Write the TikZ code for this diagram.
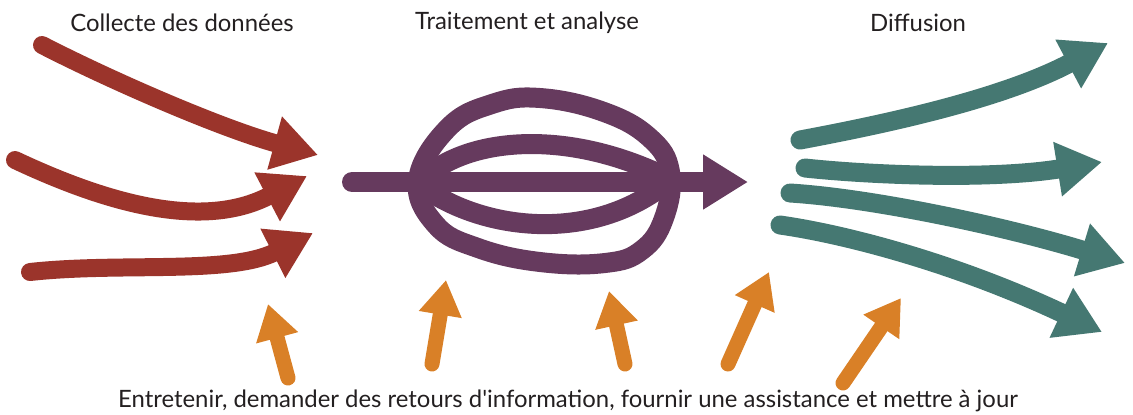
\documentclass[tikz,border=0pt]{standalone}
\usepackage{fontspec}
\setmainfont{Lato}
\usetikzlibrary{arrows.meta}
\definecolor{cred}{HTML}{9B342B}
\definecolor{cpurple}{HTML}{663A5E}
\definecolor{cteal}{HTML}{457872}
\definecolor{corange}{HTML}{D98027}
\definecolor{ctext}{HTML}{231F20}
\tikzset{
  lbl/.style={font=\fontsize{13.6}{16}\selectfont, text=ctext, inner sep=0pt},
  redarrow/.style={draw=cred, line width=0.36cm, line cap=round, -{Triangle[length=0.9cm,width=1.04cm]}},
  purplearrow/.style={draw=cpurple, line width=0.4cm, line cap=round, -{Triangle[length=0.9cm,width=1.04cm]}},
  purpleloop/.style={draw=cpurple, line width=0.4cm, line cap=round, line join=round},
  tealarrow/.style={draw=cteal, line width=0.38cm, line cap=round, -{Triangle[length=0.9cm,width=1.04cm]}},
  orangearrow/.style={draw=corange, line width=0.3cm, line cap=round, -{Triangle[length=0.7cm,width=0.82cm]}},
}
\begin{document}
\begin{tikzpicture}[x=0.02cm,y=-0.02cm]
\useasboundingbox (0,0) rectangle (1133,414);
% labels
\node[lbl] (lcol) at (182,23) {Collecte des données};
\node[lbl] (ltra) at (527,23) {Traitement et analyse};
\node[lbl] (ldif) at (918,23) {Diffusion};
\node[lbl] (lbot) at (568,401) {Entretenir, demander des retours d\textquotesingle information, fournir une assistance et mettre à jour};
% red arrows
\coordinate (r1s) at (42,45);   \coordinate (r1e) at (318,155);
\coordinate (r2s) at (15,160);  \coordinate (r2e) at (307,176);
\coordinate (r3s) at (30,272);  \coordinate (r3e) at (313,233);
\draw[redarrow] (r1s) .. controls (110,80) and (220,128) .. (r1e);
\draw[redarrow] (r2s) .. controls (100,200) and (200,232) .. (r2e);
\draw[redarrow] (r3s) .. controls (120,262) and (230,275) .. (r3e);
% purple whisk
\draw[purpleloop] plot[smooth cycle, tension=0.7] coordinates {(418,180) (448,128) (492,104) (540,98) (604,112) (650,138) (670,172) (664,218) (642,250) (605,263) (540,262) (478,248) (436,225)};
\coordinate (pul) at (420,182); \coordinate (pur) at (668,178);
\coordinate (pll) at (420,185); \coordinate (plr) at (668,182);
\draw[purpleloop] (pul) .. controls (460,140) and (560,125) .. (pur);
\draw[purpleloop] (pll) .. controls (480,230) and (590,245) .. (plr);
\coordinate (ps) at (352,182); \coordinate (pe) at (748,182);
\draw[purplearrow] (ps) -- (pe);
% teal arrows
\coordinate (t1s) at (800,140);  \coordinate (t1e) at (1108,43);
\coordinate (t2s) at (805,168);  \coordinate (t2e) at (1102,162);
\coordinate (t3s) at (790,193);  \coordinate (t3e) at (1125,263);
\coordinate (t4s) at (780,225);  \coordinate (t4e) at (1102,332);
\draw[tealarrow] (t1s) .. controls (880,125) and (1000,100) .. (t1e);
\draw[tealarrow] (t2s) .. controls (870,175) and (990,180) .. (t2e);
\draw[tealarrow] (t3s) .. controls (870,198) and (1000,225) .. (t3e);
\draw[tealarrow] (t4s) .. controls (850,235) and (960,265) .. (t4e);
% orange arrows
\coordinate (o1s) at (288,378); \coordinate (o1e) at (268,304);
\coordinate (o2s) at (432,364); \coordinate (o2e) at (446,280);
\coordinate (o3s) at (625,364); \coordinate (o3e) at (609,291);
\coordinate (o4s) at (728,364); \coordinate (o4e) at (769,272);
\coordinate (o5s) at (843,383); \coordinate (o5e) at (901,298);
\foreach \i in {1,...,5} {\draw[orangearrow] (o\i s) -- (o\i e);}
\end{tikzpicture}
\end{document}
